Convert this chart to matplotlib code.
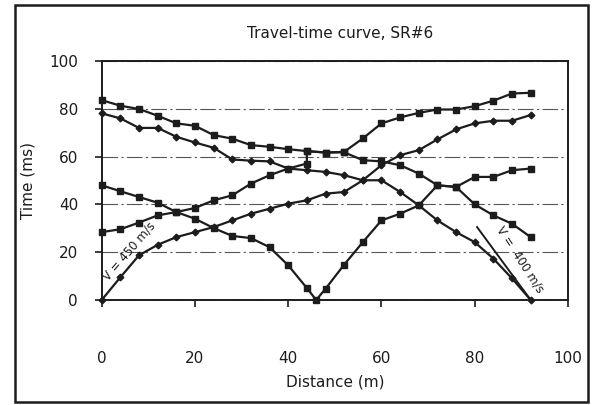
import matplotlib
matplotlib.use('Agg')
import matplotlib.pyplot as plt
from matplotlib.patches import Rectangle

# geophone positions (m)
distance = [0, 4, 8, 12, 16, 20, 24, 28, 32, 36, 40, 44,
            48, 52, 56, 60, 64, 68, 72, 76, 80, 84, 88, 92]

# shot at 0 m
shot_0 = [0, 9.5, 18.7, 23.1, 26.3, 28.4, 30.5, 33.3, 36.1, 38.2, 40.3, 41.7,
          44.5, 45.2, 50.1, 56.4, 60.6, 62.7, 67.2, 71.4, 73.9, 75.0, 75.0, 77.4]

# shot at 92 m
shot_92 = [78.1, 76.0, 72.0, 72.0, 68.3, 65.9, 63.7, 58.8, 58.3, 58.0, 55.0, 54.3,
           53.6, 52.2, 50.1, 50.1, 45.2, 39.6, 33.3, 28.4, 24.2, 17.3, 9.0, 0]

# reverse off-end shot
offend_rev = [83.6, 81.3, 79.9, 77.1, 73.9, 72.9, 69.0, 67.5, 64.8, 64.1, 63.1, 62.3,
              61.7, 61.8, 58.5, 58.0, 56.4, 52.9, 48.0, 47.3, 40.0, 35.4, 31.9, 26.3]

# forward off-end shot (two readings at 44 m)
offend_fwd_x = [0, 4, 8, 12, 16, 20, 24, 28, 32, 36, 40, 44, 44,
                48, 52, 56, 60, 64, 68, 72, 76, 80, 84, 88, 92]
offend_fwd = [28.4, 29.6, 32.4, 35.4, 36.8, 38.5, 41.7, 43.8, 48.7, 52.2, 55.0, 57.1, 62.3,
              61.7, 62.0, 67.6, 73.9, 76.4, 78.3, 79.7, 79.7, 81.1, 83.4, 86.4, 86.7]

# centre shot at 46 m
mid_x = [0, 4, 8, 12, 16, 20, 24, 28, 32, 36, 40, 44, 46,
         48, 52, 56, 60, 64, 68, 72, 76, 80, 84, 88, 92]
mid_shot = [48.0, 45.5, 43.1, 40.7, 36.8, 34.0, 30.1, 26.8, 25.9, 22.1, 14.5, 5.0, 0,
            4.7, 14.8, 24.2, 33.3, 36.1, 39.6, 48.0, 47.3, 51.5, 51.5, 54.3, 55.0]

# velocity guide line near the far end
v400_x = [80.5, 92]
v400_y = [30.5, 0]

W, H = 594, 405
fig = plt.figure(figsize=(W / 100, H / 100), dpi=100)
ax = fig.add_axes([101.7 / W, 1 - 300 / H, (568 - 101.7) / W, (300 - 61) / H])

ink = '#1c1c1c'
sq = dict(color=ink, lw=1.6, marker='s', ms=4.8, clip_on=False, zorder=3)
dm = dict(color=ink, lw=1.6, marker='D', ms=3.4, clip_on=False, zorder=3)

ax.plot(distance, offend_rev, **sq)
ax.plot(offend_fwd_x, offend_fwd, **sq)
ax.plot(mid_x, mid_shot, **sq)
ax.plot(distance, shot_0, **dm)
ax.plot(distance, shot_92, **dm)
ax.plot(v400_x, v400_y, color=ink, lw=1.4, zorder=3)

ax.text(5.8, 20.5, 'V = 450 m/s', rotation=49, fontsize=8.5, color=ink,
        ha='center', va='center', rotation_mode='anchor')
ax.text(89.8, 17.0, 'V =  400 m/s', rotation=-57, fontsize=8.5, color=ink,
        ha='center', va='center', rotation_mode='anchor')

ax.set_xlim(0, 100)
ax.set_ylim(0, 100)
ax.set_xticks([0, 20, 40, 60, 80, 100])
ax.set_yticks([0, 20, 40, 60, 80, 100])
ax.yaxis.grid(True, linestyle=(0, (14, 3, 2, 3)), color='#555555', lw=0.8)
ax.set_axisbelow(True)
for s in ax.spines.values():
    s.set_linewidth(1.4)
    s.set_color(ink)
ax.tick_params(axis='x', direction='out', length=5, width=1.2, pad=32, labelsize=11, colors=ink)
ax.tick_params(axis='y', direction='out', length=5, width=1.2, pad=12, labelsize=11, colors=ink)

ax.set_xlabel('Distance (m)', fontsize=11, labelpad=6, color=ink)
ax.set_ylabel('Time (ms)', fontsize=11, labelpad=10, color=ink)
fig.text(340 / W, 1 - 33 / H, 'Travel-time curve, SR#6', ha='center', va='center',
         fontsize=11, color=ink)

fig.patches.append(Rectangle((15 / W, 1 - 401.5 / H), (588 - 15) / W, (401.5 - 5) / H,
                             transform=fig.transFigure, fill=False, lw=1.8, edgecolor=ink))

fig.savefig('out.png', dpi=100)
